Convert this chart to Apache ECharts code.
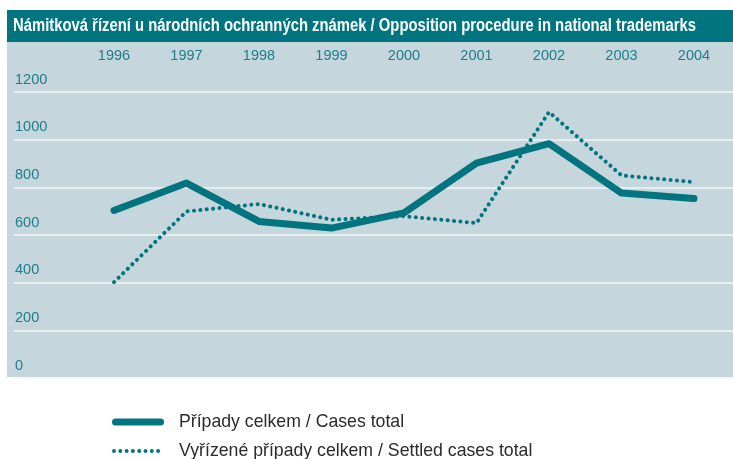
<!DOCTYPE html>
<html><head><meta charset="utf-8">
<script src="https://cdn.jsdelivr.net/npm/echarts@6/dist/echarts.min.js"></script>
<style>html,body{margin:0;padding:0;background:#fff}#c{width:733px;height:459px}</style>
</head><body><div id="c"></div>
<script>
const titleText = 'Námitková řízení u národních ochranných známek / Opposition procedure in national trademarks';
const years = ['1996','1997','1998','1999','2000','2001','2002','2003','2004'];
const casesTotal = [703, 818, 657, 629, 693, 902, 983, 776, 753];
const settledTotal = [402, 699, 730, 664, 679, 650, 1116, 850, 822];
const seriesNames = ['Případy celkem / Cases total', 'Vyřízené případy celkem / Settled cases total'];
const yMin = 0, yMax = 1200, yStep = 200;

const teal = '#00757f';
const labelTeal = '#1c7f8b';
const titleFont = 'bold 18px "Liberation Sans", Arial, sans-serif';
const mctx = document.createElement('canvas').getContext('2d');
mctx.font = titleFont;
const titleScale = 683 / mctx.measureText(titleText).width;

// legend icons
const pillIcon = 'path://M3.5 0 H48.5 A3.5 3.5 0 0 1 48.5 7 H3.5 A3.5 3.5 0 0 1 3.5 0 Z';
let dots = '';
for (let k = 0; k < 8; k++) {
  const cx = 2 + k * 6.3;
  dots += 'M' + (cx - 2).toFixed(2) + ' 2 A2 2 0 1 0 ' + (cx + 2).toFixed(2) + ' 2 A2 2 0 1 0 ' + (cx - 2).toFixed(2) + ' 2 Z ';
}
const dotIcon = 'path://' + dots;

const chart = echarts.init(document.getElementById('c'), null, {renderer: 'canvas'});
chart.setOption({
  animation: false,
  backgroundColor: '#ffffff',
  graphic: [
    {type: 'rect', shape: {x: 7, y: 10, width: 726, height: 32}, style: {fill: '#007580'}, z: -10},
    {type: 'rect', shape: {x: 7, y: 42, width: 726, height: 335}, style: {fill: '#c5d6dc'}, z: -10},
    {type: 'text', x: 13, y: 26.5, scaleX: titleScale, scaleY: 1,
     style: {text: titleText, fill: '#ffffff', font: titleFont, verticalAlign: 'middle', align: 'left'}, z: 10}
  ],
  grid: [
    {left: 77.75, right: 2.75, top: 92, bottom: 81, containLabel: false},
    {left: 14, right: 0, top: 92, bottom: 81, containLabel: false}
  ],
  xAxis: [
    {type: 'category', gridIndex: 0, data: years, position: 'top', boundaryGap: true,
     axisLine: {show: false}, axisTick: {show: false}, splitLine: {show: false},
     axisLabel: {margin: 29, color: labelTeal, fontSize: 14.5, fontFamily: '"Liberation Sans", Arial, sans-serif'}},
    {type: 'value', gridIndex: 1, min: 0, max: 1, show: false}
  ],
  yAxis: [
    {type: 'value', gridIndex: 0, min: yMin, max: yMax, interval: yStep, show: false},
    {type: 'value', gridIndex: 1, min: yMin, max: yMax, interval: yStep,
     axisLine: {show: false}, axisTick: {show: false},
     splitLine: {show: true, lineStyle: {color: '#f2f6f7', width: 1.5}},
     axisLabel: {inside: true, margin: 1, verticalAlign: 'bottom', padding: [0, 0, 5, 0],
       formatter: v => String(v),
       color: labelTeal, fontSize: 14.5, fontFamily: '"Liberation Sans", Arial, sans-serif'}}
  ],
  legend: [
    {left: 112, top: 412, padding: 0, itemWidth: 52, itemHeight: 7, icon: pillIcon,
     textStyle: {color: '#2b2b2b', fontSize: 17.7, lineHeight: 20, fontFamily: '"Liberation Sans", Arial, sans-serif', padding: [0, 0, 0, 10]},
     data: [seriesNames[0]]},
    {left: 112, top: 441, padding: 0, itemWidth: 48.1, itemHeight: 4, icon: dotIcon,
     textStyle: {color: '#2b2b2b', fontSize: 17.7, lineHeight: 20, fontFamily: '"Liberation Sans", Arial, sans-serif', padding: [0, 0, 0, 14]},
     data: [seriesNames[1]]}
  ],
  series: [
    {name: seriesNames[0], type: 'line', xAxisIndex: 0, yAxisIndex: 0, data: casesTotal,
     symbol: 'none', color: teal,
     lineStyle: {color: teal, width: 7, cap: 'round', join: 'round'}},
    {name: seriesNames[1], type: 'line', xAxisIndex: 0, yAxisIndex: 0, data: settledTotal,
     symbol: 'none', color: teal,
     lineStyle: {color: teal, width: 4, type: [0.1, 6.3], cap: 'round', join: 'round'}}
  ]
});
</script></body></html>
